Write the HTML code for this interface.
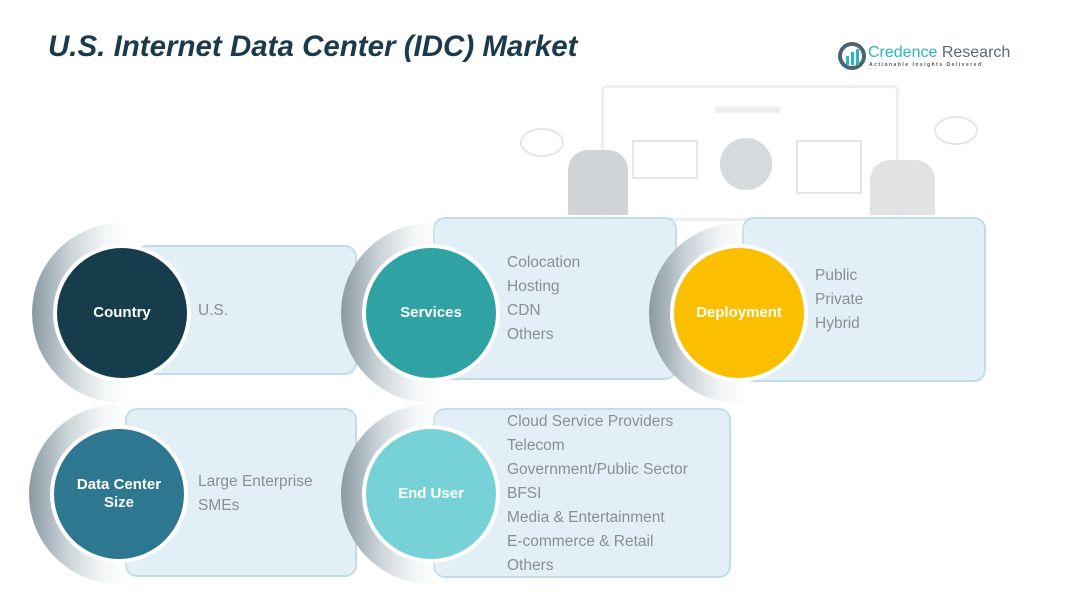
<!DOCTYPE html>
<html><head><meta charset="utf-8"><style>
body{margin:0;width:1073px;height:595px;background:#fff;position:relative;overflow:hidden;font-family:"Liberation Sans",sans-serif}
.abs{position:absolute}
.box{position:absolute;background:#e3eff6;border:2px solid #c3dde8;border-radius:12px;box-sizing:border-box}
.halo{position:absolute;width:180px;height:180px;border-radius:50%;background:linear-gradient(90deg,#8a9aa3 0%,#cdd5da 22%,#f3f5f6 40%,rgba(255,255,255,0) 55%)}
.c{position:absolute;width:130px;height:130px;border-radius:50%;box-shadow:0 0 0 4px #fff;color:#fff;font-weight:bold;font-size:15px;display:flex;align-items:center;justify-content:center;text-align:center;line-height:18px}
.t{position:absolute;color:#8a8f93;font-size:15.5px;line-height:24px}
</style></head><body>
<div class="abs" style="left:48px;top:30px;font-size:29.5px;letter-spacing:0px;font-weight:bold;font-style:italic;color:#1b3a4b">U.S. Internet Data Center (IDC) Market</div>
<svg class="abs" style="left:838px;top:42px" width="28" height="28"><circle cx="14" cy="14" r="12" fill="none" stroke="#4d6470" stroke-width="4"/><rect x="8" y="14" width="3" height="9" fill="#2bb5c8"/><rect x="13" y="10" width="3" height="13" fill="#2bb5c8"/><rect x="18" y="7" width="3" height="16" fill="#2bb5c8"/></svg>
<div class="abs" style="left:868px;top:44px;font-size:16px;color:#2bb5c8">Credence <span style="color:#5a6a72">Research</span></div>
<div class="abs" style="left:869px;top:62px;font-size:5px;letter-spacing:1.5px;color:#555;font-weight:bold">Actionable Insights Delivered</div>
<div class="abs" style="left:601px;top:85px;width:292px;height:130px;border:3px solid #eeeff0;border-radius:6px"></div>
<div class="abs" style="left:715px;top:107px;width:65px;height:6px;background:#eee"></div>
<div class="abs" style="left:632px;top:140px;width:62px;height:35px;border:2px solid #e6e6e6"></div>
<div class="abs" style="left:720px;top:138px;width:52px;height:52px;border-radius:50%;background:#d6dadc"></div>
<div class="abs" style="left:796px;top:140px;width:62px;height:50px;border:2px solid #e6e6e6"></div>
<div class="abs" style="left:568px;top:150px;width:60px;height:65px;border-radius:20px 20px 0 0;background:#d0d4d6"></div>
<div class="abs" style="left:870px;top:160px;width:65px;height:55px;border-radius:20px 20px 0 0;background:#e0e2e4"></div>
<div class="abs" style="left:520px;top:128px;width:40px;height:25px;border:2px solid #e6e6e6;border-radius:50%"></div>
<div class="abs" style="left:934px;top:116px;width:40px;height:25px;border:2px solid #e6e6e6;border-radius:50%"></div>

<div class="box" style="left:135px;top:245px;width:222px;height:130px"></div>
<div class="halo" style="left:32px;top:223px"></div>
<div class="c" style="left:57px;top:248px;background:#173d4c">Country</div>
<div class="t" style="left:198px;top:299px">U.S.</div>

<div class="box" style="left:433px;top:217px;width:244px;height:163px"></div>
<div class="halo" style="left:341px;top:223px"></div>
<div class="c" style="left:366px;top:248px;background:#2fa3a3">Services</div>
<div class="t" style="left:507px;top:251px">Colocation<br>Hosting<br>CDN<br>Others</div>

<div class="box" style="left:742px;top:217px;width:244px;height:165px"></div>
<div class="halo" style="left:649px;top:223px"></div>
<div class="c" style="left:674px;top:248px;background:#fbbf00">Deployment</div>
<div class="t" style="left:815px;top:264px">Public<br>Private<br>Hybrid</div>

<div class="box" style="left:125px;top:408px;width:232px;height:169px"></div>
<div class="halo" style="left:29px;top:404px"></div>
<div class="c" style="left:54px;top:429px;background:#2d7790">Data Center<br>Size</div>
<div class="t" style="left:198px;top:470px">Large Enterprise<br>SMEs</div>

<div class="box" style="left:433px;top:408px;width:298px;height:170px"></div>
<div class="halo" style="left:341px;top:404px"></div>
<div class="c" style="left:366px;top:429px;background:#76d2d6">End User</div>
<div class="t" style="left:507px;top:410px">Cloud Service Providers<br>Telecom<br>Government/Public Sector<br>BFSI<br>Media &amp; Entertainment<br>E-commerce &amp; Retail<br>Others</div>
</body></html>
